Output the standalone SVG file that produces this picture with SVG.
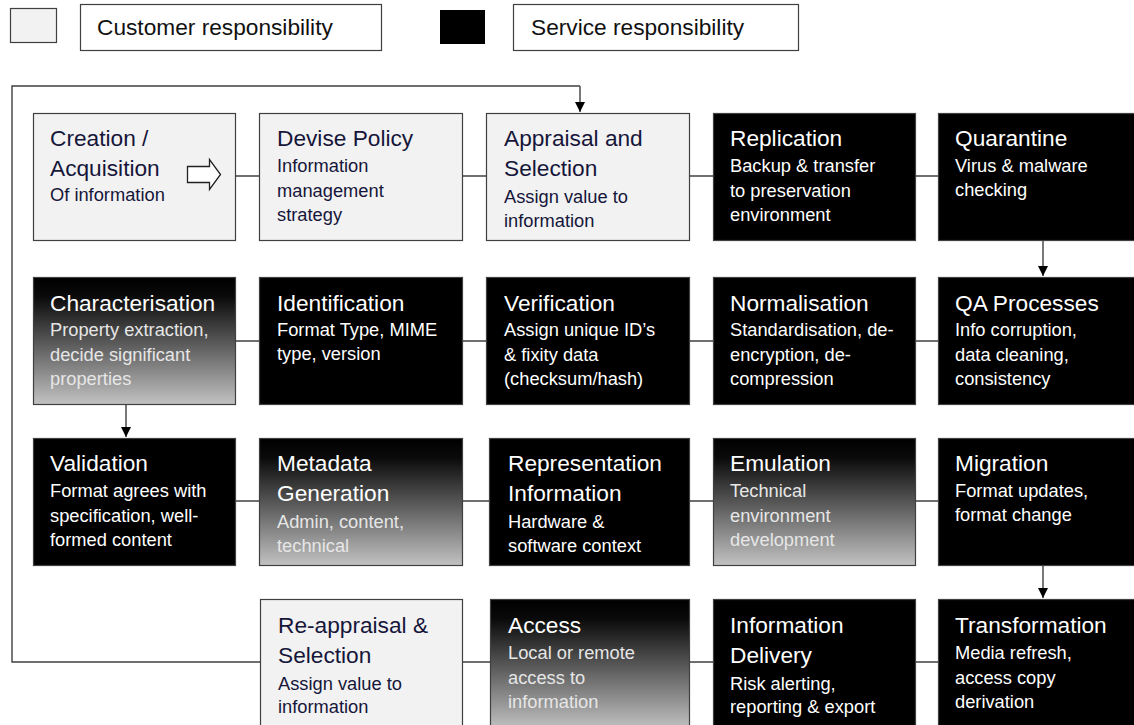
<svg xmlns="http://www.w3.org/2000/svg" width="1134" height="725" viewBox="0 0 1134 725">
<style>
.c{fill:#f2f2f2;stroke:#404040;stroke-width:1.2}
.s{fill:#000;stroke:#404040;stroke-width:1.2}
.g{fill:url(#gr);stroke:#404040;stroke-width:1.2}
text{font-family:"Liberation Sans",Arial,sans-serif}
.t{font-size:22.7px}
.d{font-size:18.3px}
.dk{fill:#16163a}
.wt{fill:#fff}
.gs{fill:#e6e6e6}
.ln{stroke:#404040;stroke-width:1.4;fill:none}
.lg{font-size:22.7px;fill:#111}
</style>
<defs>
<linearGradient id="gr" x1="0" y1="0" x2="0" y2="1">
<stop offset="0" stop-color="#000"/>
<stop offset="0.15" stop-color="#0a0a0a"/>
<stop offset="1" stop-color="#c2c2c2"/>
</linearGradient>
<marker id="ar" viewBox="0 0 10 10" refX="10" refY="5" markerWidth="10" markerHeight="10" markerUnits="userSpaceOnUse" orient="auto">
<path d="M0,0 L10,5 L0,10 z" fill="#000"/>
</marker>
</defs>
<rect width="1134" height="725" fill="#fff"/>

<g id="legend">
<rect x="10.5" y="8.5" width="46" height="34" class="c"/>
<rect x="80.5" y="4.5" width="301" height="46" fill="#fff" stroke="#404040" stroke-width="1.2"/>
<text x="97" y="35" class="lg">Customer responsibility</text>
<rect x="440" y="10" width="45" height="34" fill="#000"/>
<rect x="513.5" y="4.5" width="285" height="46" fill="#fff" stroke="#404040" stroke-width="1.2"/>
<text x="531" y="35" class="lg">Service responsibility</text>
</g>

<g id="connectors">
<path class="ln" d="M580,86 H12 V662 H260"/>
<path class="ln" d="M580,86 V112" marker-end="url(#ar)"/>
<path class="ln" d="M236,176 H259 M463,176 H486 M690,176 H713 M916,176 H938"/>
<path class="ln" d="M236,341 H259 M463,341 H486 M690,341 H713 M916,341 H938"/>
<path class="ln" d="M236,501 H259 M463,501 H489 M690,501 H713 M916,501 H938"/>
<path class="ln" d="M463,662 H490 M690,662 H713 M916,662 H938"/>
<path class="ln" d="M1043,241 V276" marker-end="url(#ar)"/>
<path class="ln" d="M126,405 V437" marker-end="url(#ar)"/>
<path class="ln" d="M1043,566 V598" marker-end="url(#ar)"/>
</g>

<g id="creation">
<rect x="33.5" y="113.5" width="202" height="127" class="c"/>
<text x="50" y="146" class="t dk">Creation /</text>
<text x="50" y="176" class="t dk">Acquisition</text>
<text x="50" y="201" class="d dk">Of information</text>
<path d="M187.5,166.5 H209.5 V159.5 L220.5,174.5 L209.5,189.5 V182.5 H187.5 Z" fill="#fff" stroke="#222" stroke-width="1.3"/>
</g>
<g id="devise">
<rect x="259.5" y="113.5" width="203" height="127" class="c"/>
<text x="277" y="146" class="t dk">Devise Policy</text>
<text x="277" y="172" class="d dk">Information</text>
<text x="277" y="197" class="d dk">management</text>
<text x="277" y="221" class="d dk">strategy</text>
</g>
<g id="appraisal">
<rect x="486.5" y="113.5" width="203" height="127" class="c"/>
<text x="504" y="146" class="t dk">Appraisal and</text>
<text x="504" y="176" class="t dk">Selection</text>
<text x="504" y="203" class="d dk">Assign value to</text>
<text x="504" y="227" class="d dk">information</text>
</g>
<g id="replication">
<rect x="713.5" y="113.5" width="202" height="127" class="s"/>
<text x="730" y="146" class="t wt">Replication</text>
<text x="730" y="172" class="d wt">Backup &amp; transfer</text>
<text x="730" y="197" class="d wt">to preservation</text>
<text x="730" y="221" class="d wt">environment</text>
</g>
<g id="quarantine">
<rect x="938.5" y="113.5" width="200" height="127" class="s"/>
<text x="955" y="146" class="t wt">Quarantine</text>
<text x="955" y="172" class="d wt">Virus &amp; malware</text>
<text x="955" y="196" class="d wt">checking</text>
</g>

<g id="characterisation">
<rect x="33.5" y="277.5" width="202" height="127" class="g"/>
<text x="50" y="311" class="t wt">Characterisation</text>
<text x="50" y="336" class="d gs">Property extraction,</text>
<text x="50" y="361" class="d gs">decide significant</text>
<text x="50" y="385" class="d gs">properties</text>
</g>
<g id="identification">
<rect x="259.5" y="277.5" width="203" height="127" class="s"/>
<text x="277" y="311" class="t wt">Identification</text>
<text x="277" y="336" class="d wt">Format Type, MIME</text>
<text x="277" y="360" class="d wt">type, version</text>
</g>
<g id="verification">
<rect x="486.5" y="277.5" width="203" height="127" class="s"/>
<text x="504" y="311" class="t wt">Verification</text>
<text x="504" y="336" class="d wt">Assign unique ID’s</text>
<text x="504" y="361" class="d wt">&amp; fixity data</text>
<text x="504" y="385" class="d wt">(checksum/hash)</text>
</g>
<g id="normalisation">
<rect x="713.5" y="277.5" width="202" height="127" class="s"/>
<text x="730" y="311" class="t wt">Normalisation</text>
<text x="730" y="336" class="d wt">Standardisation,  de-</text>
<text x="730" y="361" class="d wt">encryption, de-</text>
<text x="730" y="385" class="d wt">compression</text>
</g>
<g id="qa">
<rect x="938.5" y="277.5" width="200" height="127" class="s"/>
<text x="955" y="311" class="t wt">QA Processes</text>
<text x="955" y="336" class="d wt">Info corruption,</text>
<text x="955" y="361" class="d wt">data cleaning,</text>
<text x="955" y="385" class="d wt">consistency</text>
</g>

<g id="validation">
<rect x="33.5" y="438.5" width="202" height="127" class="s"/>
<text x="50" y="471" class="t wt">Validation</text>
<text x="50" y="497" class="d wt">Format agrees with</text>
<text x="50" y="522" class="d wt">specification,  well-</text>
<text x="50" y="546" class="d wt">formed content</text>
</g>
<g id="metadata">
<rect x="259.5" y="438.5" width="203" height="127" class="g"/>
<text x="277" y="471" class="t wt">Metadata</text>
<text x="277" y="501" class="t wt">Generation</text>
<text x="277" y="528" class="d gs">Admin, content,</text>
<text x="277" y="552" class="d gs">technical</text>
</g>
<g id="representation">
<rect x="489.5" y="438.5" width="200" height="127" class="s"/>
<text x="508" y="471" class="t wt">Representation</text>
<text x="508" y="501" class="t wt">Information</text>
<text x="508" y="528" class="d wt">Hardware &amp;</text>
<text x="508" y="552" class="d wt">software context</text>
</g>
<g id="emulation">
<rect x="713.5" y="438.5" width="202" height="127" class="g"/>
<text x="730" y="471" class="t wt">Emulation</text>
<text x="730" y="497" class="d gs">Technical</text>
<text x="730" y="522" class="d gs">environment</text>
<text x="730" y="546" class="d gs">development</text>
</g>
<g id="migration">
<rect x="938.5" y="438.5" width="200" height="127" class="s"/>
<text x="955" y="471" class="t wt">Migration</text>
<text x="955" y="497" class="d wt">Format updates,</text>
<text x="955" y="521" class="d wt">format change</text>
</g>

<g id="reappraisal">
<rect x="260.5" y="599.5" width="202" height="130" class="c"/>
<text x="278" y="633" class="t dk">Re-appraisal &amp;</text>
<text x="278" y="663" class="t dk">Selection</text>
<text x="278" y="690" class="d dk">Assign value to</text>
<text x="278" y="713" class="d dk">information</text>
</g>
<g id="access">
<rect x="490.5" y="599.5" width="199" height="130" class="g"/>
<text x="508" y="633" class="t wt">Access</text>
<text x="508" y="659" class="d gs">Local or remote</text>
<text x="508" y="684" class="d gs">access to</text>
<text x="508" y="708" class="d gs">information</text>
</g>
<g id="delivery">
<rect x="713.5" y="599.5" width="202" height="130" class="s"/>
<text x="730" y="633" class="t wt">Information</text>
<text x="730" y="663" class="t wt">Delivery</text>
<text x="730" y="690" class="d wt">Risk alerting,</text>
<text x="730" y="713" class="d wt">reporting &amp; export</text>
</g>
<g id="transformation">
<rect x="938.5" y="599.5" width="200" height="130" class="s"/>
<text x="955" y="633" class="t wt">Transformation</text>
<text x="955" y="659" class="d wt">Media refresh,</text>
<text x="955" y="684" class="d wt">access copy</text>
<text x="955" y="708" class="d wt">derivation</text>
</g>
</svg>
